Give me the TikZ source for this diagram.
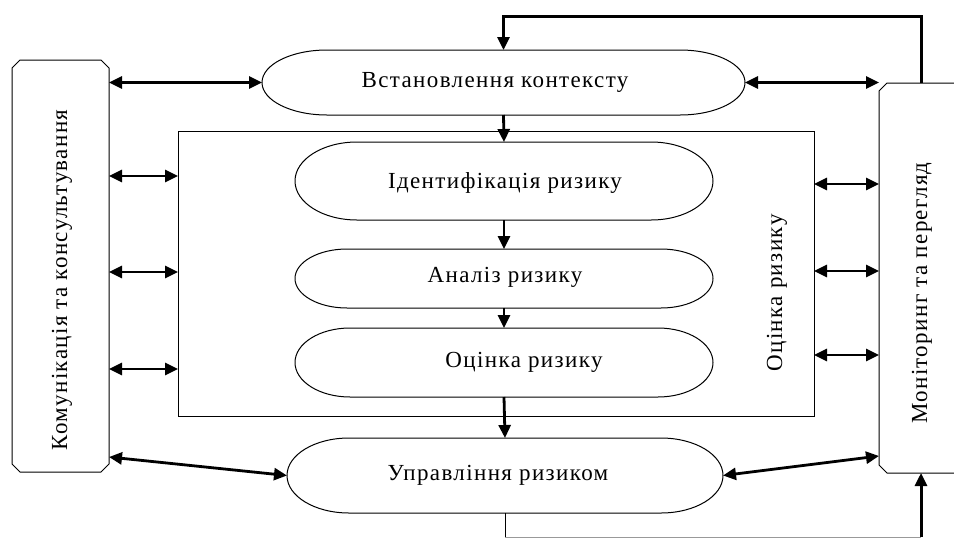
\documentclass[tikz,border=0pt]{standalone}
\usepackage{fontspec}
\setmainfont{Liberation Serif}[LetterSpace=6]
\usetikzlibrary{arrows.meta,calc}
\newcommand\capsule[2]{%
  \draw[thinline] let \p1=(#1.north west), \p2=(#1.south east), \n1={(\y1-\y2)/2} in
   (\x1+#2,\y1) -- (\x2-#2,\y1) arc[start angle=90,end angle=-90,x radius=#2,y radius=\n1]
   -- (\x1+#2,\y2) arc[start angle=270,end angle=90,x radius=#2,y radius=\n1] -- cycle;}
\newcommand\chamferbox[2]{%
  \draw[thinline] let \p1=(#1.north west), \p2=(#1.south east) in
   (\x1+#2,\y1) -- (\x2-#2,\y1) -- (\x2,\y1-#2) -- (\x2,\y2+#2) -- (\x2-#2,\y2)
   -- (\x1+#2,\y2) -- (\x1,\y2+#2) -- (\x1,\y1-#2) -- cycle;}
\tikzset{
  thinline/.style={line width=1pt, black},
  hold/.style={inner sep=0pt, outer sep=0pt, draw=none},
  lbl/.style={inner sep=0pt, font=\fontsize{23}{26}\selectfont},
  flow/.style={line width=2.8pt, -{Triangle[length=13pt,width=12pt]}},
  dbl/.style={line width=2.8pt, {Triangle[length=13pt,width=12pt]}-{Triangle[length=13pt,width=12pt]}},
}
\begin{document}
\begin{tikzpicture}[x=1pt,y=-1pt]
\clip (0,0) rectangle (954,539);
\fill[white] (0,0) rectangle (954,539);
% side boxes
\node[hold, minimum width=97, minimum height=412] (lb) at (60.5,266) {};
\node[hold, minimum width=120, minimum height=390] (rb) at (939,278) {};
\chamferbox{lb}{8pt}
\chamferbox{rb}{8pt}
% inner rectangle
\node[hold, draw, thinline, minimum width=636, minimum height=285] (rect) at (496,273.5) {};
% capsules
\node[hold, minimum width=483, minimum height=65] (ctx) at (503.5,82.5) {};
\node[hold, minimum width=418, minimum height=78] (id) at (504,181) {};
\node[hold, minimum width=418, minimum height=59] (an) at (504,278.5) {};
\node[hold, minimum width=418, minimum height=69] (oc) at (504,362.5) {};
\node[hold, minimum width=436, minimum height=75] (up) at (505,475.5) {};
\capsule{ctx}{65pt}
\capsule{id}{62pt}
\capsule{an}{52pt}
\capsule{oc}{55pt}
\capsule{up}{62pt}
% labels
\node[lbl] (tctx) at (495,82) {Встановлення контексту};
\node[lbl] (tid) at (505,183) {Ідентифікація ризику};
\node[lbl] (tan) at (505,277) {Аналіз ризику};
\node[lbl] (toc) at (524,362) {Оцінка ризику};
\node[lbl] (tup) at (498,475) {Управління ризиком};
\node[lbl, rotate=90] (tkom) at (62,280) {Комунікація та консультування};
\node[lbl, rotate=90] (tmon) at (922,293) {Моніторинг та перегляд};
\node[lbl, rotate=90] (tocr) at (777,293) {Оцінка ризику};
% level coordinates
\coordinate (l1) at (0,176);
\coordinate (l2) at (0,272);
\coordinate (l3) at (0,369);
\coordinate (r1) at (0,184);
\coordinate (r2) at (0,271);
\coordinate (r3) at (0,355);
\coordinate (ld) at (0,457);
\coordinate (rd) at (0,456);
\coordinate (fbx) at (921,0);
\coordinate (ftop) at (0,16);
\coordinate (fbot) at (0,537);
% flow arrows
\draw[flow] (ctx.south) -- (id.north);
\draw[flow] (id.south) -- (an.north);
\draw[flow] (an.south) -- (oc.north);
\draw[flow] (oc.south) -- (up.north);
% side double arrows
\draw[dbl] (lb.east |- ctx.west) -- (ctx.west);
\draw[dbl] (ctx.east) -- (rb.west |- ctx.east);
\draw[dbl] (lb.east |- l1) -- (rect.west |- l1);
\draw[dbl] (lb.east |- l2) -- (rect.west |- l2);
\draw[dbl] (lb.east |- l3) -- (rect.west |- l3);
\draw[dbl] (rect.east |- r1) -- (rb.west |- r1);
\draw[dbl] (rect.east |- r2) -- (rb.west |- r2);
\draw[dbl] (rect.east |- r3) -- (rb.west |- r3);
\draw[dbl] (lb.east |- ld) -- (up.west);
\draw[dbl] (up.east) -- (rb.west |- rd);
% feedback loops
\draw[line width=3pt, -{Triangle[length=13pt,width=12pt]}] (fbx |- rb.north) -- (fbx |- ftop) -- (ctx.north |- ftop) -- (ctx.north);
\draw[thinline] (up.south) -- (up.south |- fbot);
\draw[line width=1pt, black!40] (up.south |- fbot) -- (fbx |- fbot);
\draw[line width=3pt, -{Triangle[length=13pt,width=12pt]}] (fbx |- fbot) -- (fbx |- rb.south);
\end{tikzpicture}
\end{document}
